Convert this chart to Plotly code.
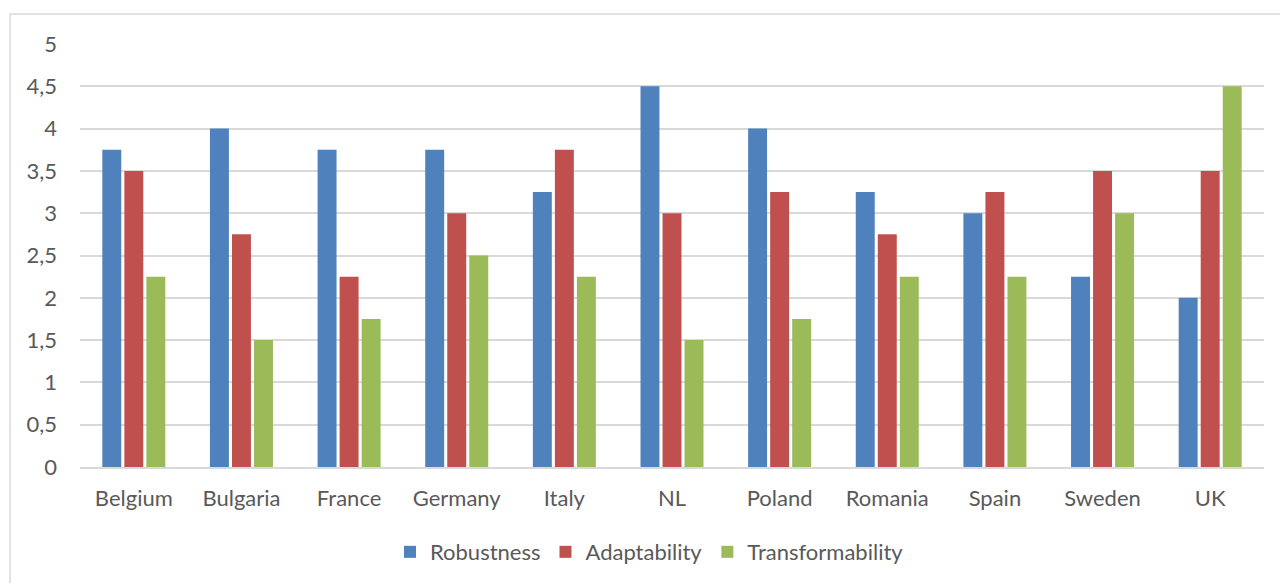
import plotly.graph_objects as go

countries = ["Belgium", "Bulgaria", "France", "Germany", "Italy", "NL", "Poland", "Romania", "Spain", "Sweden", "UK"]
robustness = [3.75, 4.0, 3.75, 3.75, 3.25, 4.5, 4.0, 3.25, 3.0, 2.25, 2.0]
adaptability = [3.5, 2.75, 2.25, 3.0, 3.75, 3.0, 3.25, 2.75, 3.25, 3.5, 3.5]
transformability = [2.25, 1.5, 1.75, 2.5, 2.25, 1.5, 1.75, 2.25, 2.25, 3.0, 4.5]
y_ticks = [0, 0.5, 1, 1.5, 2, 2.5, 3, 3.5, 4, 4.5, 5]
y_labels = ["0", "0,5", "1", "1,5", "2", "2,5", "3", "3,5", "4", "4,5", "5"]

series = [
    ("Robustness", robustness, "#4F81BD"),
    ("Adaptability", adaptability, "#C0504D"),
    ("Transformability", transformability, "#9BBB59"),
]

fig = go.Figure()
for name, vals, color in series:
    fig.add_trace(go.Bar(x=countries, y=vals, name=name, marker=dict(color=color, line=dict(width=0))))

font_family = "Lato, Open Sans, sans-serif"
grey = "#595959"
fs = 22

fig.update_layout(
    width=1280, height=583,
    margin=dict(l=80, r=16, t=44, b=116, autoexpand=False),
    paper_bgcolor="white", plot_bgcolor="white",
    barmode="group", bargap=0.386, bargroupgap=0.14,
    font=dict(family=font_family, size=fs, color=grey),
    showlegend=True,
    legend=dict(orientation="h", x=0.481, xanchor="center", y=-0.201, yanchor="middle",
                font=dict(size=fs, color=grey), traceorder="normal"),
    xaxis=dict(showgrid=False, showline=True, linecolor="#D9D9D9", linewidth=1.5, automargin=False,
               ticks="", ticklabelstandoff=11, tickfont=dict(size=fs, color=grey)),
    yaxis=dict(range=[0, 5], tickvals=y_ticks, ticktext=y_labels, showgrid=True, automargin=False,
               gridcolor="#D9D9D9", gridwidth=1.5, zeroline=False, showline=False,
               ticks="", ticklabelstandoff=22, tickfont=dict(size=fs, color=grey)),
    shapes=[dict(type="rect", xref="paper", yref="paper", x0=-0.0591, x1=1.2, y0=-0.5, y1=1.0709,
                 line=dict(color="#D9D9D9", width=1.5), fillcolor="rgba(0,0,0,0)", layer="below")],
)

fig.write_html("out.html")
